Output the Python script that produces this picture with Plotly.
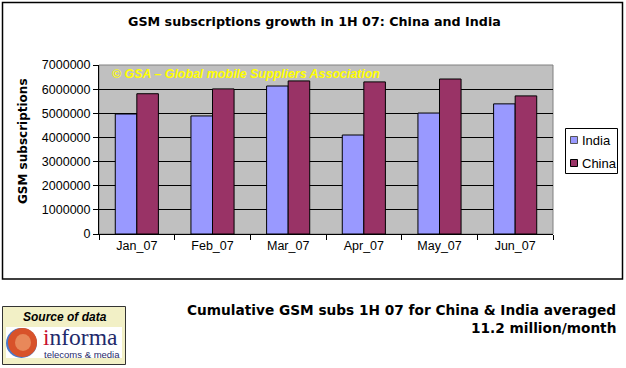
import plotly.graph_objects as go

months = ["Jan_07", "Feb_07", "Mar_07", "Apr_07", "May_07", "Jun_07"]
india = [4970000, 4890000, 6130000, 4100000, 5010000, 5390000]
china = [5810000, 6010000, 6340000, 6300000, 6420000, 5720000]
y_ticks = [0, 1000000, 2000000, 3000000, 4000000, 5000000, 6000000, 7000000]
series_names = ["India", "China"]
series_colors = ["#9999FF", "#993366"]

W, H = 626, 368
L, R, T, B = 99, 553, 65, 234


def px(x):
    return (x - L) / (R - L)


def py(y):
    return (B - y) / (B - T)


FONT = "Liberation Sans, Arial, sans-serif"
WIDE = "DejaVu Sans, Verdana, sans-serif"

fig = go.Figure()
for name, vals, col in zip(series_names, [india, china], series_colors):
    fig.add_trace(go.Bar(name=name, x=months, y=vals, showlegend=False,
                         marker=dict(color=col, line=dict(color="black", width=1))))

shapes = [
    dict(type="rect", xref="paper", yref="paper", x0=0, x1=1, y0=0, y1=1,
         line=dict(color="#808080", width=1), layer="below"),
    # outer chart border
    dict(type="rect", xref="paper", yref="paper", x0=px(2.5), x1=px(622.5),
         y0=py(279), y1=py(2.5), line=dict(color="black", width=1.5)),
    # legend box
    dict(type="rect", xref="paper", yref="paper", x0=px(565.5), x1=px(617.5),
         y0=py(173.5), y1=py(128.5), fillcolor="white",
         line=dict(color="black", width=1)),
    # logo box
    dict(type="rect", xref="paper", yref="paper", x0=px(2.5), x1=px(125.5),
         y0=py(364.5), y1=py(306.5), fillcolor="#F2F0C6",
         line=dict(color="#333333", width=1)),
    dict(type="rect", xref="paper", yref="paper", x0=px(6), x1=px(122),
         y0=py(358), y1=py(327), fillcolor="white", line=dict(width=0)),
    dict(type="circle", xref="paper", yref="paper", x0=px(6), x1=px(37),
         y0=py(358), y1=py(328), fillcolor="#4A78C8", line=dict(width=0)),
    dict(type="circle", xref="paper", yref="paper", x0=px(8), x1=px(37),
         y0=py(357), y1=py(328), fillcolor="#D8522A", line=dict(width=0)),
    dict(type="circle", xref="paper", yref="paper", x0=px(15), x1=px(31),
         y0=py(351), y1=py(334), fillcolor="#E8885A", line=dict(width=0)),
]

# legend swatches
for i, col in enumerate(series_colors):
    cy = 140 + i * 23
    shapes.append(dict(type="rect", xref="paper", yref="paper",
                       x0=px(570.5), x1=px(577.5), y0=py(cy + 3.5), y1=py(cy - 3.5),
                       fillcolor=col, line=dict(color="black" if i else "#555555", width=1)))

annotations = [
    dict(text="<b>GSM subscriptions growth in 1H 07: China and India</b>",
         xref="paper", yref="paper", x=px(314), y=py(21), showarrow=False,
         xanchor="center", yanchor="middle", font=dict(size=12.7, color="black", family=WIDE)),
    dict(text="<b><i>© GSA – Global mobile Suppliers Association</i></b>",
         xref="paper", yref="paper", x=px(110), y=py(74), showarrow=False,
         xanchor="left", yanchor="middle", font=dict(size=12.4, color="#FFFF00", family=FONT)),
    dict(text="<b>GSM subscriptions</b>", textangle=-90,
         xref="paper", yref="paper", x=px(23), y=py(141), showarrow=False,
         xanchor="center", yanchor="middle", font=dict(size=12, color="black", family=WIDE)),
    dict(text="<b>Cumulative GSM subs 1H 07 for China &amp; India averaged</b>",
         xref="paper", yref="paper", x=px(618), y=py(310), showarrow=False,
         xanchor="right", yanchor="middle", font=dict(size=13.7, color="black", family=WIDE)),
    dict(text="<b>11.2 million/month</b>",
         xref="paper", yref="paper", x=px(618), y=py(328), showarrow=False,
         xanchor="right", yanchor="middle", font=dict(size=13.7, color="black", family=WIDE)),
    dict(text="<b><i>Source of data</i></b>",
         xref="paper", yref="paper", x=px(65), y=py(317), showarrow=False,
         xanchor="center", yanchor="middle", font=dict(size=12, color="black", family=FONT)),
    dict(text="<span style='color:#C8102E'>i</span>nforma",
         xref="paper", yref="paper", x=px(41), y=py(337), showarrow=False,
         xanchor="left", yanchor="middle",
         font=dict(size=23.5, color="#1F2A6B", family="Liberation Serif, Times New Roman, serif")),
    dict(text="telecoms &amp; media",
         xref="paper", yref="paper", x=px(42), y=py(354), showarrow=False,
         xanchor="left", yanchor="middle", font=dict(size=9.5, color="#1F2A6B", family=FONT)),
]
for i, name in enumerate(series_names):
    annotations.append(dict(text=name, xref="paper", yref="paper",
                            x=px(580), y=py(140 + i * 23), showarrow=False,
                            xanchor="left", yanchor="middle",
                            font=dict(size=13, color="black", family=FONT)))

fig.update_layout(
    width=W, height=H,
    margin=dict(l=L, r=W - R, t=T, b=H - B, pad=0, autoexpand=False),
    paper_bgcolor="white", plot_bgcolor="#C0C0C0",
    barmode="group", bargap=0.43, bargroupgap=0,
    font=dict(family=FONT, color="black", size=12),
    showlegend=False,
    shapes=shapes, annotations=annotations,
)
fig.update_xaxes(showline=True, linecolor="black", linewidth=1,
                 ticks="outside", tickson="boundaries", ticklen=5, tickcolor="black",
                 tickfont=dict(size=12.5, family=FONT, color="black"),
                 showgrid=False, fixedrange=True, automargin=False)
fig.update_yaxes(range=[0, 7000000], tickvals=y_ticks, tickformat="d",
                 showline=True, linecolor="black", linewidth=1,
                 ticks="outside", ticklen=5, tickcolor="black",
                 tickfont=dict(size=12.5, family=FONT, color="black"),
                 showgrid=True, gridcolor="black", gridwidth=1,
                 zeroline=False, fixedrange=True, automargin=False)

fig.write_html("out.html", config={"displayModeBar": False},
               post_script="document.body.style.margin='0';document.body.style.overflow='hidden';")
